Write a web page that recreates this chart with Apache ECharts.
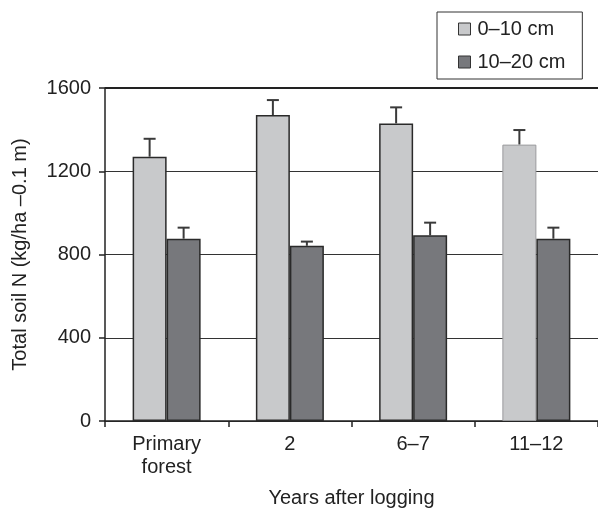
<!DOCTYPE html>
<html>
<head>
<meta charset="utf-8">
<script src="https://cdn.jsdelivr.net/npm/echarts@6/dist/echarts.min.js"></script>
<style>
  html, body { margin: 0; padding: 0; background: #fff; }
  #chart { width: 598px; height: 508px; }
</style>
</head>
<body>
<div id="chart"></div>
<script>
// Total soil nitrogen by years after logging, two soil depths
const categories = ['Primary\nforest', '2', '6\u20137', '11\u201312'];
const seriesNames = ['0\u201310 cm', '10\u201320 cm'];
const shallowN = [1270, 1470, 1430, 1328];
const shallowErr = [86, 72, 77, 70];
const deepN = [876, 842, 892, 876];
const deepErr = [53, 20, 61, 53];
const yTicks = [0, 400, 800, 1200, 1600];
const yMax = 1600;

const FONT = '"Liberation Sans", Arial, sans-serif';
const FS = 20;
const INK = '#222';
const LIGHT = '#c8c9cb';
const DARK = '#77787c';
const BAR_W = 34;

// Upward-only error whiskers; offset shifts the whisker onto its bar within the category
function errorSeries(values, errs, offset) {
  return {
    type: 'custom',
    z: 1,
    silent: true,
    data: values.map((v, i) => [i, v, v + errs[i]]),
    renderItem: function (params, api) {
      const base = api.coord([api.value(0), api.value(1)]);
      const top = api.coord([api.value(0), api.value(2)]);
      const x = base[0] + offset;
      const stroke = { stroke: '#3a3a3a', lineWidth: 2 };
      return {
        type: 'group',
        children: [
          { type: 'line', shape: { x1: x, y1: base[1], x2: x, y2: top[1] }, style: stroke },
          { type: 'line', shape: { x1: x - 6, y1: top[1], x2: x + 6, y2: top[1] }, style: stroke }
        ]
      };
    }
  };
}

const chart = echarts.init(document.getElementById('chart'), null, { renderer: 'canvas' });
chart.setOption({
  animation: false,
  backgroundColor: '#fff',
  textStyle: { fontFamily: FONT, color: INK },
  grid: { left: 105, right: 0, top: 88, bottom: 87, containLabel: false, outerBoundsMode: 'none' },
  legend: {
    orient: 'vertical',
    left: 437,
    top: 12,
    padding: [6, 17, 6, 21],
    itemGap: 11,
    itemWidth: 12,
    itemHeight: 12,
    borderColor: '#333',
    borderWidth: 1,
    borderRadius: 0,
    icon: 'rect',
    itemStyle: { borderColor: '#333', borderWidth: 1 },
    textStyle: { fontFamily: FONT, fontSize: FS, color: INK, lineHeight: 22, padding: [0, 0, 0, 2] },
    data: seriesNames
  },
  xAxis: {
    type: 'category',
    data: categories,
    name: 'Years after logging',
    nameLocation: 'middle',
    nameGap: 67,
    nameTextStyle: { fontFamily: FONT, fontSize: FS, color: INK },
    axisLine: { lineStyle: { color: INK, width: 1.5 } },
    axisTick: { show: true, length: 6, lineStyle: { color: INK, width: 1.5 } },
    axisLabel: { fontFamily: FONT, fontSize: FS, color: INK, margin: 12, lineHeight: 23 },
    splitLine: { show: false }
  },
  yAxis: {
    type: 'value',
    min: 0,
    max: yMax,
    interval: 400,
    name: 'Total soil N (kg/ha \u20130.1 m)',
    nameLocation: 'middle',
    nameGap: 75,
    nameRotate: 90,
    nameTextStyle: { fontFamily: FONT, fontSize: FS, color: INK },
    axisLine: { show: true, lineStyle: { color: INK, width: 1.5 } },
    axisTick: { show: true, length: 6, lineStyle: { color: INK, width: 1.5 } },
    axisLabel: {
      fontFamily: FONT, fontSize: FS, color: INK, margin: 14,
      formatter: v => (yTicks.indexOf(v) >= 0 ? String(v) : '')
    },
    splitLine: { show: true, lineStyle: { color: '#333', width: 1.2 } }
  },
  series: [
    {
      name: seriesNames[0],
      type: 'bar',
      barWidth: BAR_W,
      barGap: '0%',
      z: 2,
      itemStyle: { color: LIGHT, borderColor: '#2a2a2a', borderWidth: 1.5 },
      data: shallowN.map((v, i) => i === 3
        ? { value: v, itemStyle: { borderColor: '#9a9b9d', borderWidth: 1 } }
        : v),
      // heavier frame line along the top of the plot
      markLine: {
        silent: true,
        symbol: 'none',
        label: { show: false },
        lineStyle: { color: '#222', width: 2.2, type: 'solid' },
        data: [{ yAxis: yMax }]
      }
    },
    {
      name: seriesNames[1],
      type: 'bar',
      barWidth: BAR_W,
      barGap: '0%',
      z: 2,
      itemStyle: { color: DARK, borderColor: '#2a2a2a', borderWidth: 1.5 },
      data: deepN
    },
    errorSeries(shallowN, shallowErr, -BAR_W / 2),
    errorSeries(deepN, deepErr, BAR_W / 2)
  ]
});
</script>
</body>
</html>
